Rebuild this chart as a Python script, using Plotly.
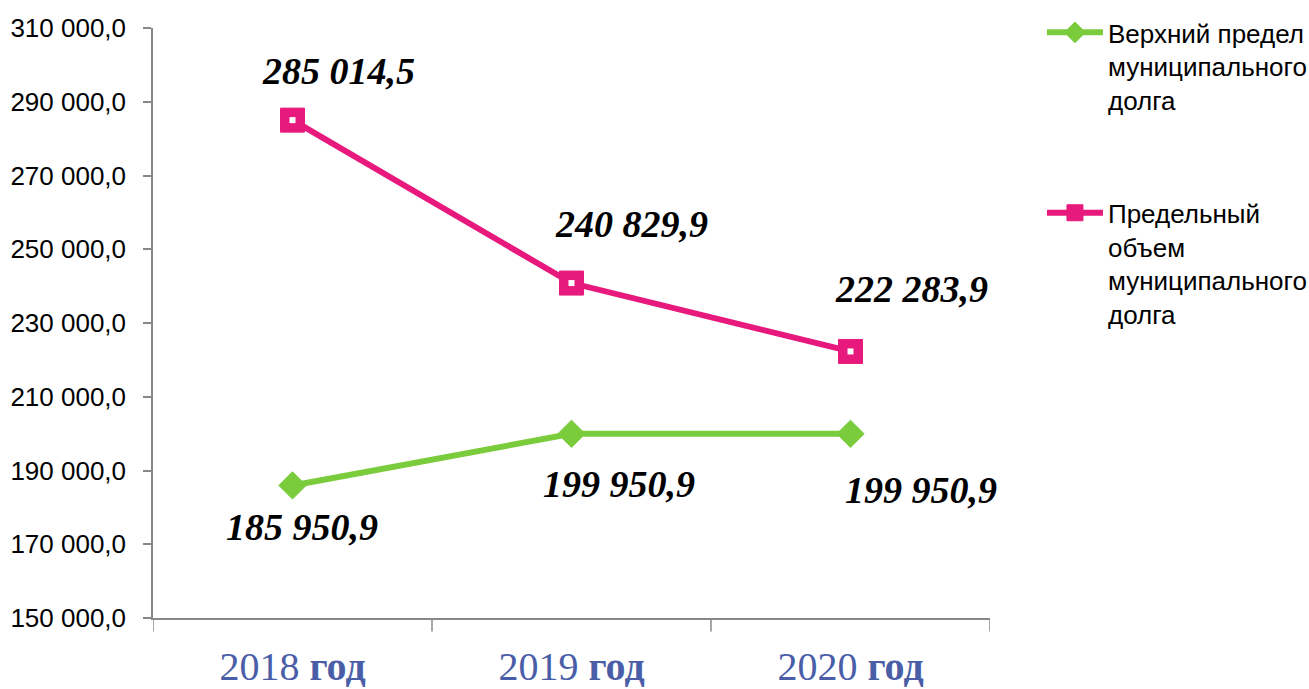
import plotly.graph_objects as go

categories = ["2018 год", "2019 год", "2020 год"]
upper_limit = [185950.9, 199950.9, 199950.9]
max_volume = [285014.5, 240829.9, 222283.9]
series_names = ["Верхний предел<br>муниципального<br>долга",
                "Предельный<br>объем<br>муниципального<br>долга"]
tick_vals = [150000, 170000, 190000, 210000, 230000, 250000, 270000, 290000, 310000]

GREEN = "#7ACC3C"
PINK = "#E8197C"

def fmt(v):
    s = f"{v:,.1f}"
    return s.replace(",", " ").replace(".", ",")

x_idx = [0, 1, 2]
cat_labels = [f"{c.split(' ')[0]} <b>{c.split(' ')[1]}</b>" for c in categories]

fig = go.Figure()
fig.add_trace(go.Scatter(
    x=x_idx, y=upper_limit, name=series_names[0], mode="lines+markers", legendgroup="a",
    line=dict(color=GREEN, width=6),
    marker=dict(symbol="diamond", size=21, color=GREEN, line=dict(color=GREEN, width=1)),
))
fig.add_trace(go.Scatter(
    x=x_idx, y=max_volume, name=series_names[1], mode="lines+markers", legendgroup="b",
    line=dict(color=PINK, width=6),
    marker=dict(symbol="square", size=24, color=PINK, line=dict(color=PINK, width=1)),
))
fig.add_trace(go.Scatter(
    x=x_idx, y=max_volume, mode="markers", showlegend=False, hoverinfo="skip",
    marker=dict(symbol="square", size=6, color="white"),
))

label_font = dict(family="Liberation Serif, Times New Roman, serif", size=38, color="black")
offsets_upper = [(9, 42), (47, 50), (70, 56)]
offsets_max = [(46, -49), (60, -59), (61, -62)]
for i in x_idx:
    fig.add_annotation(x=i, y=upper_limit[i], text=f"<b><i>{fmt(upper_limit[i])}</i></b>",
                       showarrow=False, xshift=offsets_upper[i][0], yshift=-offsets_upper[i][1],
                       font=label_font)
    fig.add_annotation(x=i, y=max_volume[i], text=f"<b><i>{fmt(max_volume[i])}</i></b>",
                       showarrow=False, xshift=offsets_max[i][0], yshift=-offsets_max[i][1],
                       font=label_font)

fig.update_layout(
    width=1309, height=689,
    margin=dict(l=153, r=319, t=28, b=71, autoexpand=False),
    paper_bgcolor="white", plot_bgcolor="white",
    separators=", ",
    showlegend=True,
    legend=dict(xref="container", yref="container", x=0.796, y=0.987,
                xanchor="left", yanchor="top", valign="top",
                itemwidth=56,
                font=dict(family="Liberation Sans, Arial, sans-serif", size=26, color="black"),
                tracegroupgap=76, bgcolor="rgba(0,0,0,0)"),
    xaxis=dict(
        range=[-0.5, 2.5], tickmode="array", tickvals=x_idx, ticktext=cat_labels,
        showgrid=False, zeroline=False, showline=True, linecolor="#888888", linewidth=1.5,
        ticks="", ticklen=0, automargin=False, ticklabelstandoff=12,
        tickfont=dict(family="Liberation Serif, Times New Roman, serif", size=40, color="#4A5EA8"),
    ),
    yaxis=dict(
        range=[150000, 310000], tickmode="array", tickvals=tick_vals,
        tickformat=",.1f", showgrid=False, zeroline=False, showline=True,
        linecolor="#888888", linewidth=1.5, ticks="outside", ticklen=8, tickcolor="#888888",
        tickwidth=1.5, automargin=False, ticklabelstandoff=12,
        tickfont=dict(family="Liberation Sans, Arial, sans-serif", size=26, color="black"),
    ),
)

# x-axis category boundary ticks
for b in [-0.5, 0.5, 1.5, 2.5]:
    fig.add_shape(type="line", xref="x", yref="paper", x0=b, x1=b, y0=0, y1=-0.023,
                  line=dict(color="#888888", width=1.5))

fig.write_html("out.html",
               config={"displayModeBar": False},
               post_script="document.body.style.margin='0';document.body.style.overflow='hidden';")
